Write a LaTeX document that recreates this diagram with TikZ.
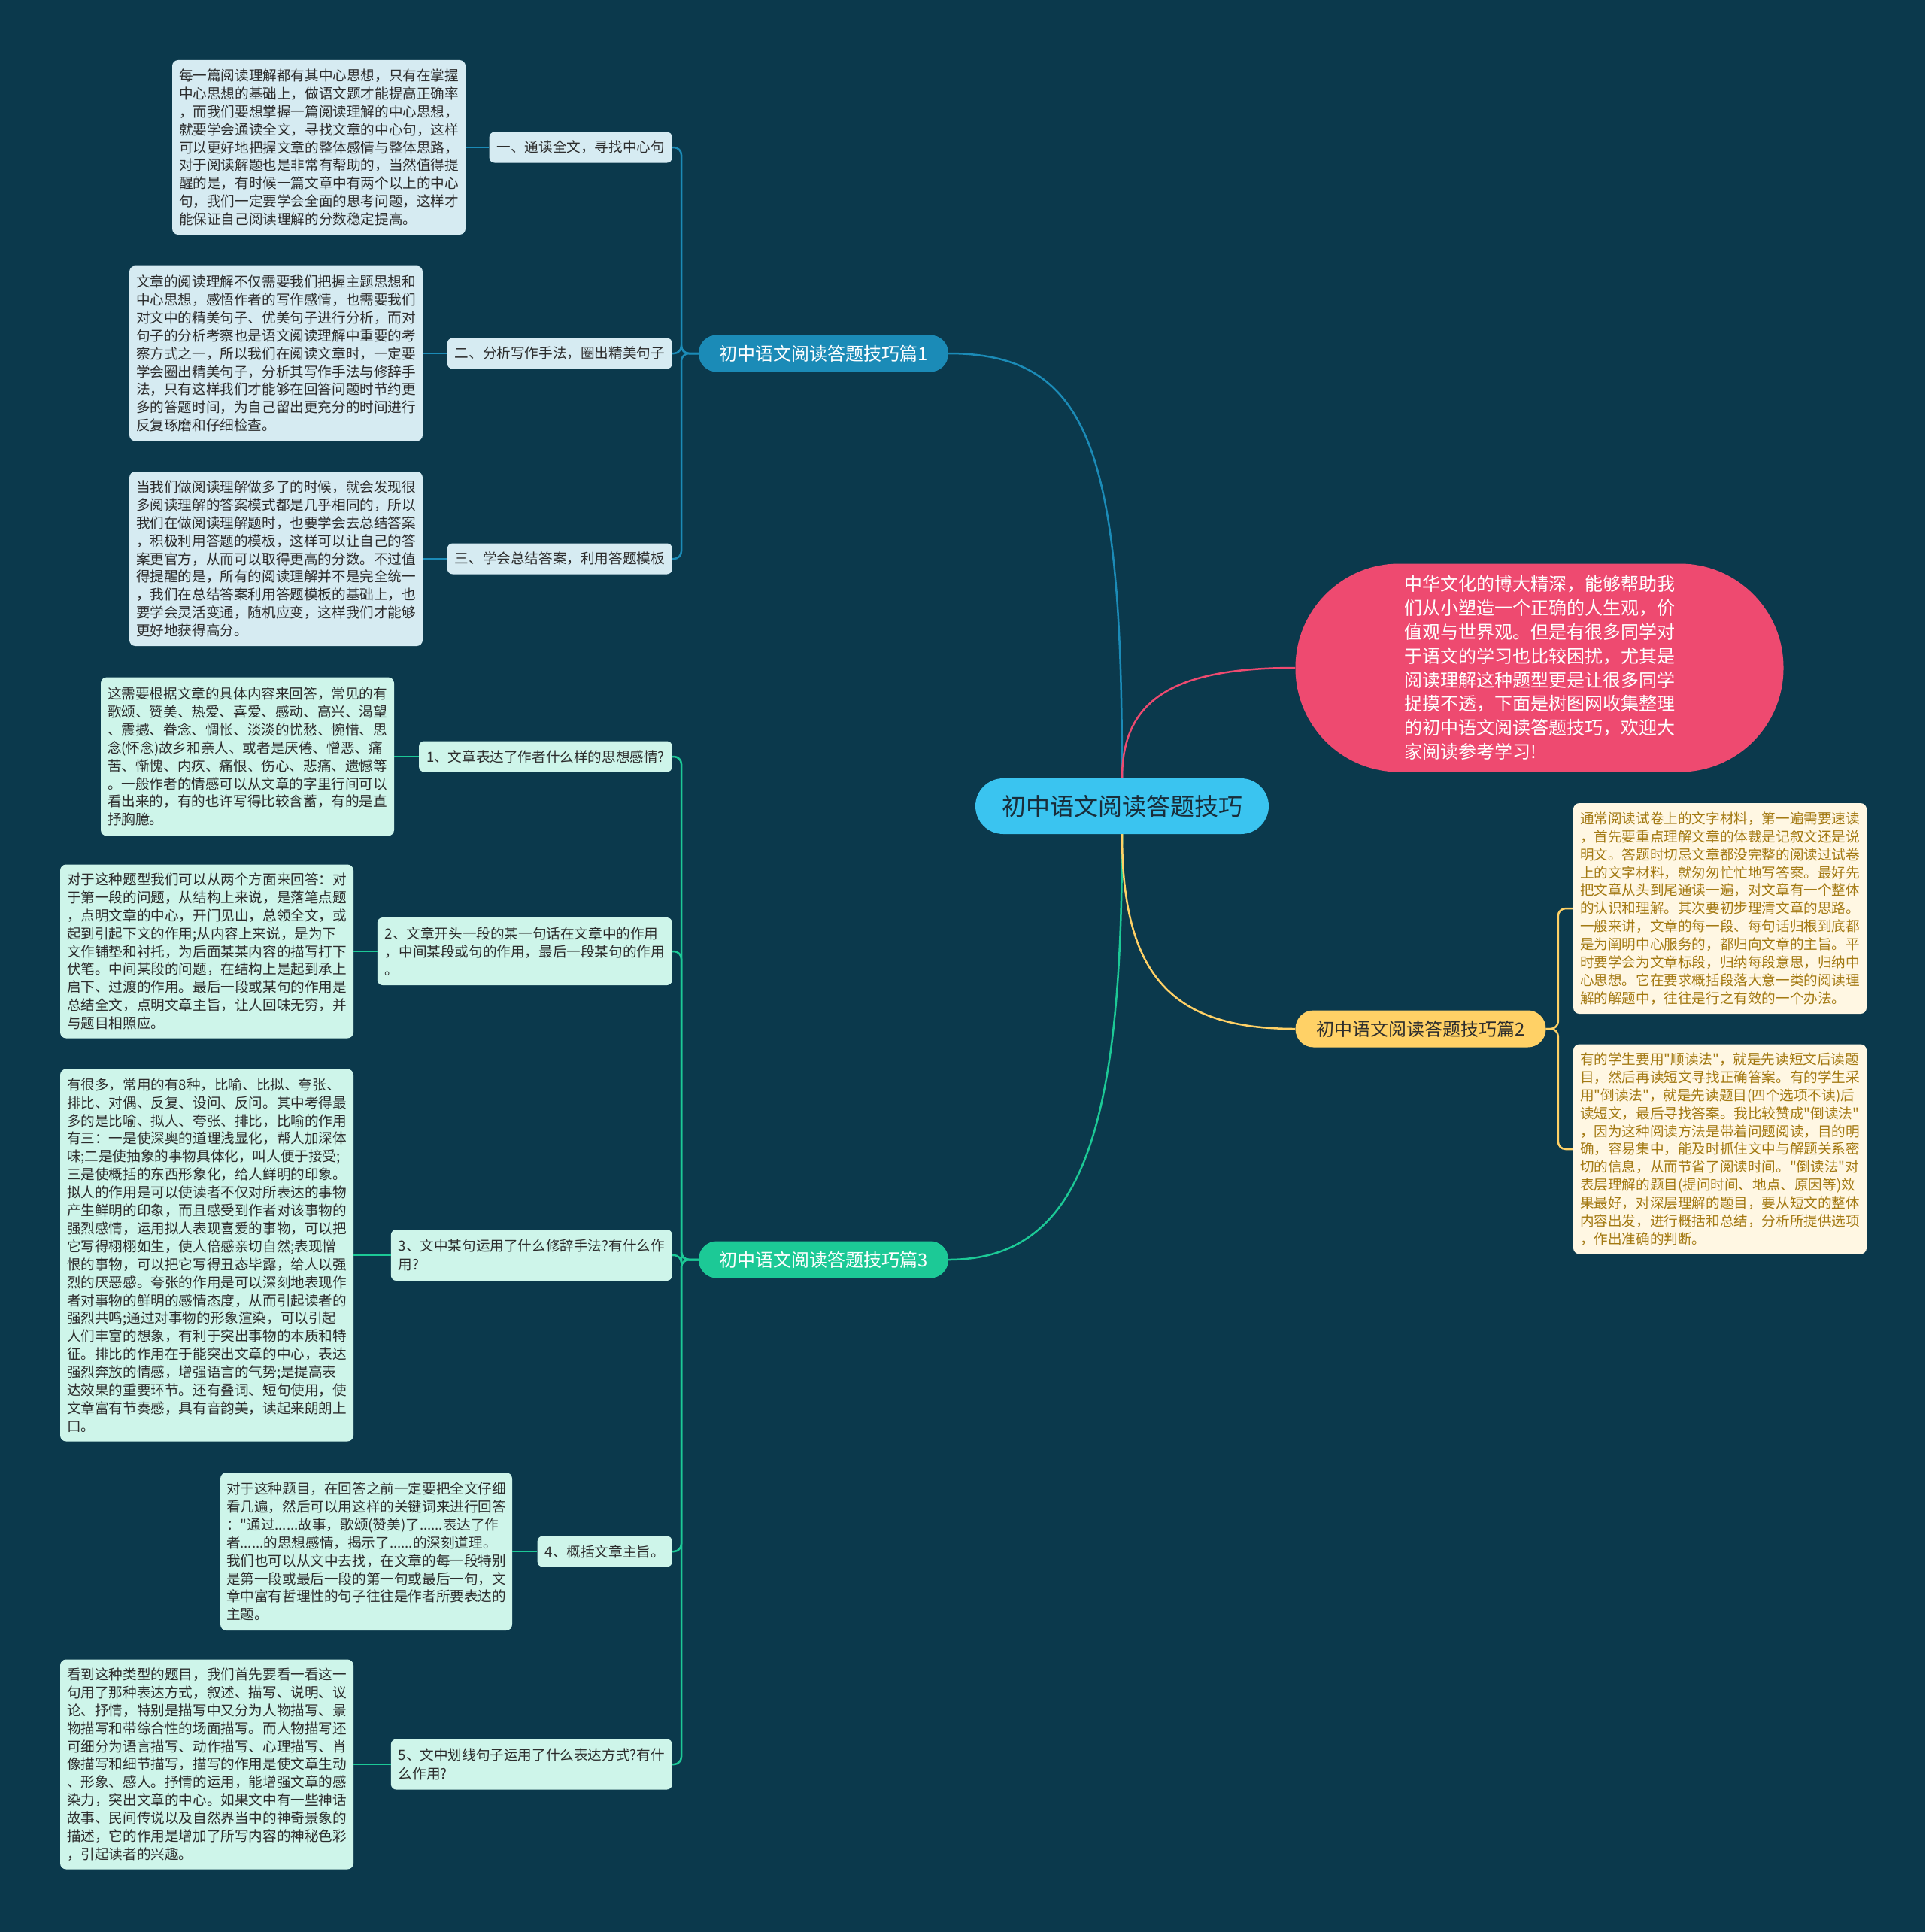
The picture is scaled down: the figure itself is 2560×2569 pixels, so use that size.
\documentclass[tikz,border=0pt]{standalone}
\usepackage{fontspec}
\setmainfont{Noto Sans CJK SC}[Ligatures=TeXOff]
\usetikzlibrary{calc}
\definecolor{bg}{RGB}{11,57,76}
\definecolor{cblue}{RGB}{27,139,183}
\definecolor{lblue}{RGB}{214,235,242}
\definecolor{cgreen}{RGB}{28,201,150}
\definecolor{lgreen}{RGB}{206,245,234}
\definecolor{cyel}{RGB}{255,209,102}
\definecolor{lyel}{RGB}{255,247,227}
\definecolor{tgold}{RGB}{163,121,18}
\definecolor{cred}{RGB}{238,74,112}
\definecolor{ccen}{RGB}{58,196,240}
\definecolor{tdark}{RGB}{45,45,45}
\definecolor{tcen}{RGB}{25,45,58}
\tikzset{
  leaf/.style={rounded corners=8pt, inner sep=0pt, align=left, text=tdark,
    font=\fontsize{18.6}{23.9}\selectfont, minimum width=390pt},
  bleaf/.style={leaf, fill=lblue},
  gleaf/.style={leaf, fill=lgreen},
  yleaf/.style={leaf, fill=lyel, text=tgold},
  lab/.style={rounded corners=7pt, inner xsep=10pt, inner ysep=0pt, align=left, text=tdark,
    font=\fontsize{18.6}{24.3}\selectfont, minimum height=41pt, anchor=east},
  blab/.style={lab, fill=lblue},
  glab/.style={lab, fill=lgreen},
  mainlab/.style={rounded corners=24pt, inner sep=0pt, minimum width=332pt, minimum height=49pt,
    font=\fontsize{24}{28}\selectfont},
  bline/.style={draw=cblue, line width=2.5pt},
  gline/.style={draw=cgreen, line width=2.5pt},
  yline/.style={draw=cyel, line width=2.5pt},
  rline/.style={draw=cred, line width=2.5pt},
}
\begin{document}
\begin{tikzpicture}[x=1pt,y=-1pt]
\fill[bg] (0,0) rectangle (2560,2569);
\useasboundingbox (0,0) rectangle (2560,2569);

% central node
\node[fill=ccen, rounded corners=37pt, minimum width=390pt, minimum height=74pt, inner sep=0pt,
  text=tcen, font=\fontsize{32}{36}\selectfont] (cen) at (1492,1072) {初中语文阅读答题技巧};

% intro
\node[fill=cred, rounded corners=138pt, minimum width=649pt, minimum height=277pt, inner sep=0pt,
  text=white, align=left, font=\fontsize{24}{31.8}\selectfont] (intro) at (2047,888)
  {中华文化的博大精深，能够帮助我\\们从小塑造一个正确的人生观，价\\值观与世界观。但是有很多同学对\\于语文的学习也比较困扰，尤其是\\阅读理解这种题型更是让很多同学\\捉摸不透，下面是树图网收集整理\\的初中语文阅读答题技巧，欢迎大\\家阅读参考学习!};

% main branches
\node[mainlab, fill=cblue, text=white] (s1) at (1095,470) {初中语文阅读答题技巧篇1};
\node[mainlab, fill=cyel, text=tdark, minimum width=333pt] (s2) at (1889,1368) {初中语文阅读答题技巧篇2};
\node[mainlab, fill=cgreen, text=white] (s3) at (1095,1675) {初中语文阅读答题技巧篇3};

% section 1
\node[blab] (l1) at (894,196) {一、通读全文，寻找中心句};
\node[blab] (l2) at (894,470) {二、分析写作手法，圈出精美句子};
\node[blab] (l3) at (894,743) {三、学会总结答案，利用答题模板};

\node[bleaf, minimum height=232pt] (b1) at (424,196) {每一篇阅读理解都有其中心思想，只有在掌握\\中心思想的基础上，做语文题才能提高正确率\\，而我们要想掌握一篇阅读理解的中心思想，\\就要学会通读全文，寻找文章的中心句，这样\\可以更好地把握文章的整体感情与整体思路，\\对于阅读解题也是非常有帮助的，当然值得提\\醒的是，有时候一篇文章中有两个以上的中心\\句，我们一定要学会全面的思考问题，这样才\\能保证自己阅读理解的分数稳定提高。};
\node[bleaf, minimum height=233pt] (b2) at (367,470) {文章的阅读理解不仅需要我们把握主题思想和\\中心思想，感悟作者的写作感情，也需要我们\\对文中的精美句子、优美句子进行分析，而对\\句子的分析考察也是语文阅读理解中重要的考\\察方式之一，所以我们在阅读文章时，一定要\\学会圈出精美句子，分析其写作手法与修辞手\\法，只有这样我们才能够在回答问题时节约更\\多的答题时间，为自己留出更充分的时间进行\\反复琢磨和仔细检查。};
\node[bleaf, minimum height=232pt] (b3) at (367,743) {当我们做阅读理解做多了的时候，就会发现很\\多阅读理解的答案模式都是几乎相同的，所以\\我们在做阅读理解题时，也要学会去总结答案\\，积极利用答题的模板，这样可以让自己的答\\案更官方，从而可以取得更高的分数。不过值\\得提醒的是，所有的阅读理解并不是完全统一\\，我们在总结答案利用答题模板的基础上，也\\要学会灵活变通，随机应变，这样我们才能够\\更好地获得高分。};

% section 3
\node[glab] (m1) at (894,1006) {1、文章表达了作者什么样的思想感情?};
\node[glab, minimum height=90pt] (m2) at (894,1265) {2、文章开头一段的某一句话在文章中的作用\\，中间某段或句的作用，最后一段某句的作用\\。};
\node[glab, minimum height=68pt] (m3) at (894,1669) {3、文中某句运用了什么修辞手法?有什么作\\用?};
\node[glab] (m4) at (894,2063) {4、概括文章主旨。};
\node[glab, minimum height=67pt] (m5) at (894,2346) {5、文中划线句子运用了什么表达方式?有什\\么作用?};

\node[gleaf, minimum height=211pt] (c1) at (329,1006) {这需要根据文章的具体内容来回答，常见的有\\歌颂、赞美、热爱、喜爱、感动、高兴、渴望\\、震撼、眷念、惆怅、淡淡的忧愁、惋惜、思\\念(怀念)故乡和亲人、或者是厌倦、憎恶、痛\\苦、惭愧、内疚、痛恨、伤心、悲痛、遗憾等\\。一般作者的情感可以从文章的字里行间可以\\看出来的，有的也许写得比较含蓄，有的是直\\抒胸臆。};
\node[gleaf, minimum height=231pt] (c2) at (275,1265) {对于这种题型我们可以从两个方面来回答：对\\于第一段的问题，从结构上来说，是落笔点题\\，点明文章的中心，开门见山，总领全文，或\\起到引起下文的作用;从内容上来说，是为下\\文作铺垫和衬托，为后面某某内容的描写打下\\伏笔。中间某段的问题，在结构上是起到承上\\启下、过渡的作用。最后一段或某句的作用是\\总结全文，点明文章主旨，让人回味无穷，并\\与题目相照应。};
\node[gleaf, minimum height=495pt] (c3) at (275,1669) {有很多，常用的有8种，比喻、比拟、夸张、\\排比、对偶、反复、设问、反问。其中考得最\\多的是比喻、拟人、夸张、排比，比喻的作用\\有三：一是使深奥的道理浅显化，帮人加深体\\味;二是使抽象的事物具体化，叫人便于接受;\\三是使概括的东西形象化，给人鲜明的印象。\\拟人的作用是可以使读者不仅对所表达的事物\\产生鲜明的印象，而且感受到作者对该事物的\\强烈感情，运用拟人表现喜爱的事物，可以把\\它写得栩栩如生，使人倍感亲切自然;表现憎\\恨的事物，可以把它写得丑态毕露，给人以强\\烈的厌恶感。夸张的作用是可以深刻地表现作\\者对事物的鲜明的感情态度，从而引起读者的\\强烈共鸣;通过对事物的形象渲染，可以引起\\人们丰富的想象，有利于突出事物的本质和特\\征。排比的作用在于能突出文章的中心，表达\\强烈奔放的情感，增强语言的气势;是提高表\\达效果的重要环节。还有叠词、短句使用，使\\文章富有节奏感，具有音韵美，读起来朗朗上\\口。};
\node[gleaf, minimum height=210pt, minimum width=388pt] (c4) at (487,2063) {对于这种题目，在回答之前一定要把全文仔细\\看几遍，然后可以用这样的关键词来进行回答\\："通过......故事，歌颂(赞美)了......表达了作\\者......的思想感情，揭示了......的深刻道理。\\我们也可以从文中去找，在文章的每一段特别\\是第一段或最后一段的第一句或最后一句，文\\章中富有哲理性的句子往往是作者所要表达的\\主题。};
\node[gleaf, minimum height=279pt] (c5) at (275,2346) {看到这种类型的题目，我们首先要看一看这一\\句用了那种表达方式，叙述、描写、说明、议\\论、抒情，特别是描写中又分为人物描写、景\\物描写和带综合性的场面描写。而人物描写还\\可细分为语言描写、动作描写、心理描写、肖\\像描写和细节描写，描写的作用是使文章生动\\、形象、感人。抒情的运用，能增强文章的感\\染力，突出文章的中心。如果文中有一些神话\\故事、民间传说以及自然界当中的神奇景象的\\描述，它的作用是增加了所写内容的神秘色彩\\，引起读者的兴趣。};

% section 2
\node[yleaf, minimum height=280pt] (r1) at (2287,1208) {通常阅读试卷上的文字材料，第一遍需要速读\\，首先要重点理解文章的体裁是记叙文还是说\\明文。答题时切忌文章都没完整的阅读过试卷\\上的文字材料，就匆匆忙忙地写答案。最好先\\把文章从头到尾通读一遍，对文章有一个整体\\的认识和理解。其次要初步理清文章的思路。\\一般来讲，文章的每一段、每句话归根到底都\\是为阐明中心服务的，都归向文章的主旨。平\\时要学会为文章标段，归纳每段意思，归纳中\\心思想。它在要求概括段落大意一类的阅读理\\解的解题中，往往是行之有效的一个办法。};
\node[yleaf, minimum height=279pt] (r2) at (2287,1528) {有的学生要用"顺读法"，就是先读短文后读题\\目，然后再读短文寻找正确答案。有的学生采\\用"倒读法"，就是先读题目(四个选项不读)后\\读短文，最后寻找答案。我比较赞成"倒读法"\\，因为这种阅读方法是带着问题阅读，目的明\\确，容易集中，能及时抓住文中与解题关系密\\切的信息，从而节省了阅读时间。"倒读法"对\\表层理解的题目(提问时间、地点、原因等)效\\果最好，对深层理解的题目，要从短文的整体\\内容出发，进行概括和总结，分析所提供选项\\，作出准确的判断。};

% main connectors
\draw[bline] (cen.north) .. controls (1492,600) and (1450,470) .. (s1.east);
\draw[rline] (cen.north) .. controls (1492,930) and (1560,888) .. (intro.west);
\draw[gline] (cen.south) .. controls (1492,1500) and (1440,1675) .. (s3.east);
\draw[yline] (cen.south) .. controls (1492,1300) and (1560,1368) .. (s2.west);

% section 1 connectors
\foreach \c in {l1,l2,l3}{
  \draw[bline, rounded corners=10pt] (s1.west) -| ([xshift=12pt]\c.east) -- (\c.east);
}
\draw[bline] (b1.east) -- (l1.west);
\draw[bline] (b2.east) -- (l2.west);
\draw[bline] (b3.east) -- (l3.west);

% section 3 connectors
\foreach \c in {m1,m2,m3,m4,m5}{
  \draw[gline, rounded corners=10pt] (s3.west) -| ([xshift=12pt]\c.east) -- (\c.east);
}
\draw[gline] (c1.east) -- (m1.west);
\draw[gline] (c2.east) -- (m2.west);
\draw[gline] (c3.east) -- (m3.west);
\draw[gline] (c4.east) -- (m4.west);
\draw[gline] (c5.east) -- (m5.west);

% section 2 connectors
\foreach \c in {r1,r2}{
  \draw[yline, rounded corners=10pt] (s2.east) -| ([xshift=-20pt]\c.west) -- (\c.west);
}
\end{tikzpicture}
\end{document}
